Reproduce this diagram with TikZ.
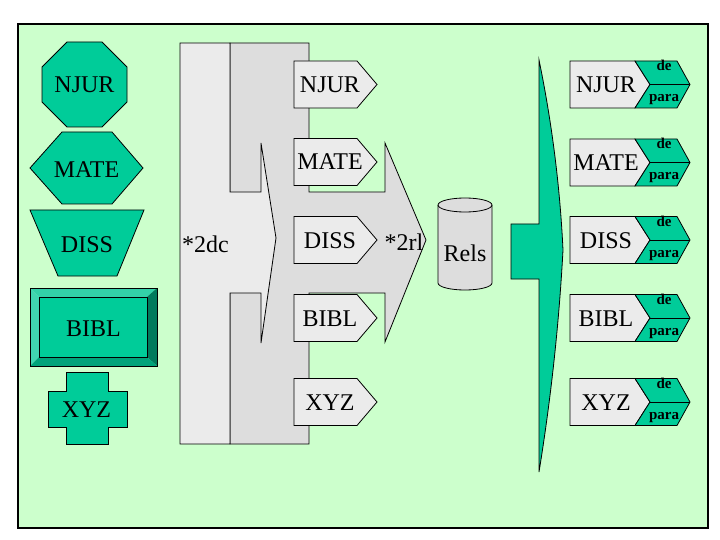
\documentclass[tikz,border=0pt]{standalone}
\usepackage{fontspec}
\setmainfont{Liberation Serif}

\definecolor{bggreen}{HTML}{CCFFCC}
\definecolor{tealfill}{HTML}{00CC99}
\definecolor{bevlight}{HTML}{40D6B0}
\definecolor{bevtop}{HTML}{33D1A8}
\definecolor{bevright}{HTML}{007A5C}
\definecolor{bevbottom}{HTML}{00A37A}
\definecolor{grayA}{HTML}{EBEBEB}
\definecolor{grayB}{HTML}{DDDDDD}

\begin{document}
\begin{tikzpicture}[x=1pt,y=-1pt,line width=0.8pt,
  lbl/.style={font=\fontsize{24}{28}\selectfont, anchor=base, inner sep=0pt},
  small/.style={font=\fontsize{15}{17}\selectfont\bfseries, anchor=base, inner sep=0pt},
  tealshape/.style={draw=black, fill=tealfill},
  paleshape/.style={draw=black, fill=grayA},
  darkshape/.style={draw=black, fill=grayB}]
\useasboundingbox (0,0) rectangle (720,540);

% frame
\draw[line width=1.5pt, fill=bggreen] (18,24) rectangle (708,528);

% left column
\draw[tealshape] (67,42) -- (102,42) -- (127,67) -- (127,102) -- (102,127)
  -- (67,127) -- (42,102) -- (42,67) -- cycle;
\draw[tealshape] (62,132) -- (112,132) -- (143,168) -- (112,204) -- (62,204)
  -- (30,168) -- cycle;
\draw[tealshape] (30,210) -- (144,210) -- (117,276) -- (58,276) -- cycle;
\fill[bevtop] (30,288) -- (157,288) -- (147,297) -- (39,297) -- cycle;
\fill[bevlight] (30,288) -- (39,297) -- (39,357) -- (30,366) -- cycle;
\fill[bevright] (157,288) -- (157,366) -- (147,357) -- (147,297) -- cycle;
\fill[bevbottom] (30,366) -- (157,366) -- (147,357) -- (39,357) -- cycle;
\draw[tealshape] (39,297) rectangle (147,357);
\draw (30,288) rectangle (157,366);
\draw[tealshape] (66,372) -- (108,372) -- (108,391) -- (127,391) -- (127,427)
  -- (108,427) -- (108,444) -- (66,444) -- (66,427) -- (48,427) -- (48,391)
  -- (66,391) -- cycle;
\node[lbl] (njurL) at (84.5,93) {NJUR};
\node[lbl] (mateL) at (86.5,178) {MATE};
\node[lbl] (dissL) at (87,252) {DISS};
\node[lbl] (biblL) at (93.5,336) {BIBL};
\node[lbl] (xyzL) at (86.5,417) {XYZ};

% split arrows
\draw[darkshape] (230,43) -- (309,43) -- (309,192) -- (385,192) -- (385,143)
  -- (426,240) -- (385,342) -- (385,293) -- (309,293) -- (309,444)
  -- (230,444) -- cycle;
\draw[paleshape] (180,43) -- (230,43) -- (230,192) -- (261,192) -- (261,143)
  -- (276,238) -- (261,343) -- (261,293) -- (230,293) -- (230,444)
  -- (180,444) -- cycle;
\node[lbl] (dc) at (205.5,252) {*2dc};
\node[lbl] (rl) at (404,250) {*2rl};

% middle boxes
\foreach \name/\yc in {NJUR/84.5,MATE/162,DISS/240,BIBL/318,XYZ/402}{
  \draw[paleshape] (294,\yc-23.5) -- (357,\yc-23.5) -- (377,\yc)
    -- (357,\yc+23.5) -- (294,\yc+23.5) -- cycle;
  \node[lbl] (mid\name) at (330,\yc+8) {\name};
}

% relations store
\draw[darkshape] (438,205) -- (438,283)
  arc[start angle=180, end angle=360, x radius=27pt, y radius=7pt]
  -- (492,205)
  arc[start angle=0, end angle=180, x radius=27pt, y radius=7pt] -- cycle;
\draw (438,205) arc[start angle=180, end angle=360, x radius=27pt, y radius=7pt];
\node[lbl] (rels) at (465,261) {Rels};

% big arrow
\draw[tealshape] (511,224) -- (539,224) -- (539,60)
  .. controls (552,123) and (560,187) .. (563,250)
  .. controls (559,324) and (551,398) .. (539,472)
  -- (539,279) -- (511,279) -- cycle;

% right column
\foreach \name/\yc in {NJUR/84.5,MATE/162.5,DISS/240,BIBL/318,XYZ/402}{
  \draw[paleshape] (570,\yc-23.5) -- (635,\yc-23.5) -- (650,\yc)
    -- (635,\yc+23.5) -- (570,\yc+23.5) -- cycle;
  \draw[tealshape] (635,\yc-23.5) -- (677,\yc-23.5) -- (690,\yc)
    -- (677,\yc+23.5) -- (635,\yc+23.5) -- (650,\yc) -- cycle;
  \draw (650,\yc) -- (690,\yc);
  \node[lbl] (out\name) at (606,\yc+8) {\name};
  \node[small] (de\name) at (664,\yc-13.5) {de};
  \node[small] (para\name) at (664,\yc+17) {para};
}
\end{tikzpicture}
\end{document}
